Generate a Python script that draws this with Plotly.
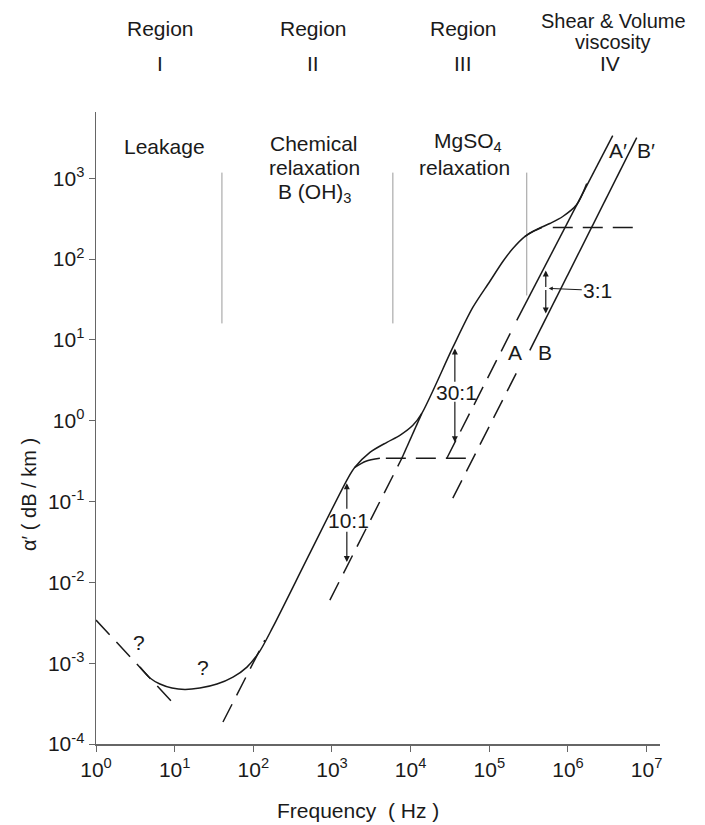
import numpy as np
import plotly.graph_objects as go

# ---------------- data (Hz, dB/km) ----------------
# total attenuation curve (solid)
total_f = [3.62, 4.85, 6.50, 9.25, 13.5, 20.9, 34.5, 55.1, 83.0, 121, 177, 524,
           1592, 1954, 3034, 4990, 7295, 10670, 13870, 34360, 61660,
           101400, 148600, 199100, 282500, 401800, 587500, 859000, 1294000, 1734000]
total_a = [8.95e-4, 6.55e-4, 5.52e-4, 4.92e-4, 4.72e-4, 4.92e-4, 5.52e-4, 6.73e-4,
           8.95e-4, 1.41e-3, 2.79e-3, 2.30e-2, 0.194, 0.265, 0.406, 0.541, 0.659,
           0.877, 1.233, 8.07, 25.2, 52.8, 93.3, 135.2, 190.1, 232.3, 275.4,
           336.5, 473.2, 859.0]

# leakage asymptote (dashed)
leak_f = [1.0, 10.1]
leak_a = [3.41e-3, 3.03e-4]

# B(OH)3 relaxation
boh_low_f = [41.1, 140]
boh_low_a = [1.87e-4, 1.93e-3]
boh_knee_f = [1954, 2698, 4064]
boh_knee_a = [0.265, 0.315, 0.343]
boh_plat_f = [4840, 60000]
boh_plat_a = [0.343, 0.343]

# MgSO4 relaxation
mg_low_f = [940, 7727]
mg_low_a = [6.03e-3, 0.343]
mg_join_f = [7727, 13870]
mg_join_a = [0.343, 1.233]
mg_knee_f = [282500, 357300, 464500]
mg_knee_a = [190.1, 219.3, 246]
mg_plat_f = [641000, 7.48e6]
mg_plat_a = [246, 246]

# viscosity lines A / A' and B / B'
a_dash_f = [28840, 187500]
a_dash_a = [0.343, 12.39]
a_solid_f = [223400, 3.707e6]
a_solid_a = [17.4, 3373]
b_dash_f = [34360, 251200]
b_dash_a = [0.110, 4.98]
b_solid_f = [327300, 7.48e6]
b_solid_a = [7.41, 3184]

# region separators
sep_f = [39.9, 5943, 299200]
sep_top = [1175, 1175, 1175]
sep_bottom = [16.0, 16.0, 35.5]

# ratio arrows: frequency, tail, head
arrow_f = [1545, 1545, 36480, 36480, 522400, 522400]
arrow_tail = [0.078, 0.0442, 2.90, 1.79, 43.4, 43.4]
arrow_head = [0.168, 0.0178, 7.85, 0.541, 72.3, 21.2]
# 3:1 leader (label -> arrow)
leader_f = [2.393e6, 570200]
leader_a = [40.9, 43.4]

x_tickvals = [1e0, 1e1, 1e2, 1e3, 1e4, 1e5, 1e6, 1e7]
x_ticktext = ["10<sup>0</sup>", "10<sup>1</sup>", "10<sup>2</sup>", "10<sup>3</sup>",
              "10<sup>4</sup>", "10<sup>5</sup>", "10<sup>6</sup>", "10<sup>7</sup>"]
y_tickvals = [1e-4, 1e-3, 1e-2, 1e-1, 1e0, 1e1, 1e2, 1e3]
y_ticktext = ["10<sup>-4</sup>", "10<sup>-3</sup>", "10<sup>-2</sup>", "10<sup>-1</sup>",
              "10<sup>0</sup>", "10<sup>1</sup>", "10<sup>2</sup>", "10<sup>3</sup>"]

# ---------------- figure ----------------
INK = "#1a1a1a"
AX = "#666666"
SOLID = dict(color=INK, width=1.5)
DASH = dict(color=INK, width=1.5, dash="20px,10px")

fig = go.Figure()


def add(xs, ys, line, shape="linear"):
    kw = dict(shape=shape, **line)
    if shape == "spline":
        kw["smoothing"] = 0.8
    fig.add_trace(go.Scatter(x=xs, y=ys, mode="lines", line=kw,
                             hoverinfo="skip", showlegend=False))


# separators
for f, t, b in zip(sep_f, sep_top, sep_bottom):
    add([f, f], [b, t], dict(color="#9a9a9a", width=1))

add(leak_f, leak_a, DASH)
add(boh_low_f, boh_low_a, DASH)
add(boh_knee_f, boh_knee_a, SOLID, "spline")
add(boh_plat_f, boh_plat_a, DASH)
add(mg_low_f, mg_low_a, DASH)
add(mg_join_f, mg_join_a, SOLID)
add(mg_knee_f, mg_knee_a, SOLID, "spline")
add(mg_plat_f, mg_plat_a, DASH)
add(a_dash_f, a_dash_a, DASH)
add(a_solid_f, a_solid_a, SOLID)
add(b_dash_f, b_dash_a, DASH)
add(b_solid_f, b_solid_a, SOLID)
add(total_f, total_a, SOLID, "spline")

# ---------------- annotations ----------------
W, H = 705, 825
L, R, T, B = 96, 45, 112, 81
PW, PH = W - L - R, H - T - B


def txt(s, xp, yp, size=21, angle=0):
    return dict(text=s, x=(xp - L) / PW, y=(H - B - yp) / PH, xref="paper", yref="paper",
                showarrow=False, xanchor="center", yanchor="middle",
                font=dict(size=size, color=INK), textangle=angle)


ann = [
    txt("Region", 160, 29), txt("I", 160, 63),
    txt("Region", 313, 29), txt("II", 313, 63),
    txt("Region", 463, 29), txt("III", 463, 63),
    txt("Shear &amp; Volume", 613, 21, 20), txt("viscosity", 613, 42, 20), txt("IV", 610, 63),
    txt("Leakage", 164, 147),
    txt("Chemical", 314, 143), txt("relaxation", 314, 167), txt("B (OH)<sub>3</sub>", 315, 193),
    txt("MgSO<sub>4</sub>", 468, 142), txt("relaxation", 464, 167),
    txt("A", 515, 352), txt("B", 545, 352), txt("A′", 618, 150), txt("B′", 646, 150),
    txt("10:1", 348, 520), txt("30:1", 456, 392),
    txt("?", 139, 642), txt("?", 203, 667),
    txt("Frequency  ( Hz )", 358, 810, 21),
    txt("α′ ( dB / km )", 29, 495, 20, -90),
]

for f, t, h in zip(arrow_f, arrow_tail, arrow_head):
    ann.append(dict(x=np.log10(f), y=np.log10(h), ax=np.log10(f), ay=np.log10(t),
                    xref="x", yref="y", axref="x", ayref="y", text="", showarrow=True,
                    arrowhead=2, arrowsize=1, arrowwidth=1.2, arrowcolor=INK,
                    standoff=0, startstandoff=0))

ann.append(dict(x=np.log10(leader_f[1]), y=np.log10(leader_a[1]),
                ax=np.log10(leader_f[0]), ay=np.log10(leader_a[0]),
                xref="x", yref="y", axref="x", ayref="y", text="3:1", showarrow=True,
                arrowhead=2, arrowsize=0.8, arrowwidth=1, arrowcolor=INK,
                font=dict(size=21, color=INK)))

fig.update_layout(
    width=W, height=H,
    margin=dict(l=L, r=R, t=T, b=B),
    paper_bgcolor="white", plot_bgcolor="white",
    font=dict(family="Liberation Sans, Arial, Helvetica, sans-serif", color=INK),
    showlegend=False,
    hovermode=False,
    annotations=ann,
    xaxis=dict(type="log", range=[0, 7.17], tickvals=x_tickvals, ticktext=x_ticktext,
               ticks="outside", ticklen=6, tickwidth=1, tickcolor=AX,
               showline=True, linecolor=AX, linewidth=1.5, showgrid=False,
               zeroline=False, tickfont=dict(size=21, color=INK)),
    yaxis=dict(type="log", range=[-4, 3.82], tickvals=y_tickvals, ticktext=y_ticktext,
               ticks="outside", ticklen=6, tickwidth=1, tickcolor=AX,
               showline=True, linecolor=AX, linewidth=1.5, showgrid=False,
               zeroline=False, tickfont=dict(size=21, color=INK)),
)

# the page's default 8px body margin would shift the figure; remove it
fig.write_html("out.html",
               config={"displayModeBar": False, "staticPlot": True},
               post_script="document.body.style.margin='0';document.body.style.padding='0';")
